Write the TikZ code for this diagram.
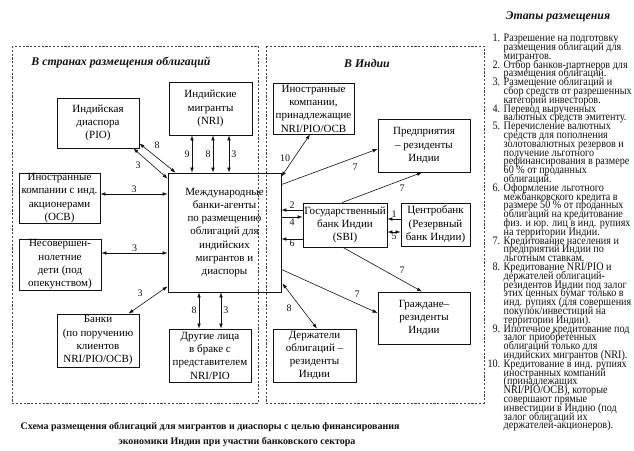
\documentclass[tikz,border=0pt]{standalone}
\usepackage{fontspec}
\setmainfont{Liberation Serif}
\newfontfamily\stagefont[FakeStretch=0.89]{Liberation Serif}
\usetikzlibrary{arrows.meta,calc}
\definecolor{ink}{HTML}{111111}
\tikzset{
  box/.style={draw=ink, line width=0.8pt, align=center, inner sep=0pt,
    font=\fontsize{11}{13.3}\selectfont},
  region/.style={draw=ink!80, line width=0.9pt, dash pattern=on 2.2pt off 1.6pt},
  tip/.tip={Latex[length=5pt, width=3.6pt]},
  link/.style={draw=ink, line width=0.6pt, -tip},
  both/.style={link, tip-tip},
  num/.style={font=\fontsize{10}{10}\selectfont, inner sep=1pt, text=ink},
  head/.style={font=\fontsize{11.8}{12}\selectfont\bfseries\itshape, text=ink},
}
% one stage of the list
\newcommand{\stg}[2]{\hangindent=17.5pt\hangafter=1\makebox[14pt][r]{#1}\hspace{3.5pt}#2\par}
\begin{document}
\begin{tikzpicture}[x=1pt, y=-1pt]
  \useasboundingbox (0,0) rectangle (634,450);
  % regions
  \draw[region] (12,46) rectangle (258,403);
  \draw[region] (266,46) rectangle (484,403);
  \node[head] (abroad) at (121,63) {В странах размещения облигаций};
  \node[head] (india) at (367,63) {В Индии};

  % boxes abroad
  \node[box, minimum width=82pt, minimum height=50pt] (pio) at (98,123) {Индийская\\диаспора\\(PIO)};
  \node[box, minimum width=83pt, minimum height=53pt] (nri) at (210.5,108.5) {Индийские\\мигранты\\(NRI)};
  \node[box, minimum width=81pt, minimum height=50pt] (ocb) at (59.5,198) {Иностранные\\компании с инд.\\акционерами\\(OCB)};
  \node[box, minimum width=113pt, minimum height=119pt] (mb) at (224.5,232.5)
    {Международные\\банки-агенты\\по размещению\\облигаций для\\индийских\\мигрантов и\\диаспоры};
  \node[box, minimum width=82pt, minimum height=51pt] (minor) at (60,264.5) {Несовершен-\\нолетние\\дети (под\\опекунством)};
  \node[box, minimum width=82pt, minimum height=53pt] (banks) at (98,340.5) {Банки\\(по поручению\\клиентов\\NRI/PIO/OCB)};
  \node[box, minimum width=82pt, minimum height=53pt] (other) at (210,355.5) {Другие лица\\в браке с\\представителем\\NRI/PIO};

  % boxes in India
  \node[box, minimum width=81pt, minimum height=51pt] (forc) at (313.5,108.5) {Иностранные\\компании,\\принадлежащие\\NRI/PIO/OCB};
  \node[box, minimum width=92pt, minimum height=53pt] (ent) at (424,145.5) {Предприятия\\– резиденты\\Индии};
  \node[box, minimum width=84pt, minimum height=44pt] (sbi) at (345,225) {Государственный\\банк Индии\\(SBI)};
  \node[box, minimum width=69pt, minimum height=43pt] (cb) at (435.5,224.5) {Центробанк\\(Резервный\\банк Индии)};
  \node[box, minimum width=92pt, minimum height=52pt] (cit) at (424,318) {Граждане–\\резиденты\\Индии};
  \node[box, minimum width=83pt, minimum height=53pt] (hold) at (314.5,355.5) {Держатели\\облигаций –\\резиденты\\Индии};

  % links abroad
  \draw[both] ($(pio.south east)+(0,-5)$) -- ($(mb.north west)+(8,0)$);
  \node[num] (n8a) at (157,145) {8};
  \draw[both] ($(pio.south east)+(-6,0)$) -- ($(mb.north west)+(0,6)$);
  \node[num] (n3a) at (138,165) {3};
  \foreach \dx/\t/\side in {-18.5/9/left, 2.5/8/left, 18.5/3/right}
    \draw[both] ([xshift=\dx pt]nri.south) -- ([xshift=\dx pt]nri.south |- mb.north)
      node[num, midway, \side=1pt] (nri\t) {\t};
  \draw[both] ([yshift=4pt]ocb.east) -- ([yshift=4pt]ocb.east -| mb.west)
    node[num, midway, above] (n3b) {3};
  \draw[both] ([yshift=11.5pt]minor.east) -- ([yshift=11.5pt]minor.east -| mb.west)
    node[num, midway, above] (n3c) {3};
  \draw[both] ($(banks.north east)+(-11,0)$) -- ($(mb.south west)+(0,-6)$);
  \node[num] (n3d) at (140,293) {3};
  \foreach \dx/\t/\side in {-11/8/left, 11/3/right}
    \draw[both] ([xshift=\dx pt]other.north) -- ([xshift=\dx pt]other.north |- mb.south)
      node[num, midway, \side=1pt] (oth\t) {\t};

  % links in India
  \draw[both] ($(forc.south)+(-3.5,0)$) -- ($(mb.north east)+(0,4)$);
  \node[num] (n10) at (285,158) {10};
  \draw[link] ($(mb.north east)+(0,12)$) -- ($(ent.west)+(0,3.5)$);
  \node[num] (n7a) at (355,167) {7};
  \draw[link] ($(sbi.north)+(-3,0)$) -- ($(ent.south)+(-2,0)$);
  \node[num] (n7b) at (402,188) {7};
  \draw[link] ([yshift=15pt]sbi.west) -- ([yshift=15pt]sbi.west -| mb.east)
    node[num, midway, above] (n2) {2};
  \draw[link] ([yshift=8pt]sbi.west -| mb.east) -- ([yshift=8pt]sbi.west)
    node[num, midway, below=1pt] (n4) {4};
  \draw[link] ([yshift=-14pt]sbi.west) -- ([yshift=-14pt]sbi.west -| mb.east)
    node[num, midway, below] (n6) {6};
  \draw[link] ([yshift=5.5pt]cb.west) -- ([yshift=5.5pt]cb.west -| sbi.east)
    node[num, midway, above] (n1) {1};
  \draw[both] ([yshift=-7.5pt]cb.west) -- ([yshift=-7.5pt]cb.west -| sbi.east)
    node[num, midway, below] (n5) {5};
  \draw[link] ($(sbi.south)+(-2,0)$) -- ($(cit.north)+(-2,0)$);
  \node[num] (n7c) at (402,270) {7};
  \draw[link] ($(mb.south east)+(0,-23)$) -- ($(cit.west)+(0,-5)$);
  \node[num] (n7d) at (357,294) {7};
  \draw[both] ($(hold.north)+(2.5,0)$) -- ($(mb.south east)+(1,-9)$);
  \node[num] (n8b) at (289,308) {8};

  % stages
  \node[head] (stagehead) at (558,17) {Этапы размещения};
  \node[anchor=base west, inner sep=0pt, text=ink] (stages) at (486,41.7) {%
    \begin{minipage}[t]{148pt}
    \stagefont\fontsize{11.4}{8.8}\selectfont\lineskiplimit=-\maxdimen
    \parindent=0pt\parskip=0pt\rightskip=0pt plus 1fil
    \stg{1.}{Разрешение на подготовку\\размещения облигаций для\\мигрантов.}
    \stg{2.}{Отбор банков-партнеров для\\размещения облигаций.}
    \stg{3.}{Размещение облигаций и\\сбор средств от разрешенных\\категорий инвесторов.}
    \stg{4.}{Перевод вырученных\\валютных средств эмитенту.}
    \stg{5.}{Перечисление валютных\\средств для пополнения\\золотовалютных резервов и\\получение льготного\\рефинансирования в размере\\60 \% от проданных\\облигаций.}
    \stg{6.}{Оформление льготного\\межбанковского кредита в\\размере 50 \% от проданных\\облигаций на кредитование\\физ. и юр. лиц в инд. рупиях\\на территории Индии.}
    \stg{7.}{Кредитование населения и\\предприятий Индии по\\льготным ставкам.}
    \stg{8.}{Кредитование NRI/PIO и\\держателей облигаций-\\резидентов Индии под залог\\этих ценных бумаг только в\\инд. рупиях (для совершения\\покупок/инвестиций на\\территории Индии).}
    \stg{9.}{Ипотечное кредитование под\\залог приобретенных\\облигаций только для\\индийских мигрантов (NRI).}
    \stg{10.}{Кредитование в инд. рупиях\\иностранных компаний\\(принадлежащих\\NRI/PIO/OCB), которые\\совершают прямые\\инвестиции в Индию (под\\залог облигаций их\\держателей-акционеров).}
    \end{minipage}};

  % caption
  \node[font=\fontsize{10}{11}\selectfont\bfseries, text=ink] (cap1) at (210,427)
    {Схема размещения облигаций для мигрантов и диаспоры с целью финансирования};
  \node[font=\fontsize{10}{11}\selectfont\bfseries, text=ink] (cap2) at (237,442)
    {экономики Индии при участии банковского сектора};
\end{tikzpicture}
\end{document}
